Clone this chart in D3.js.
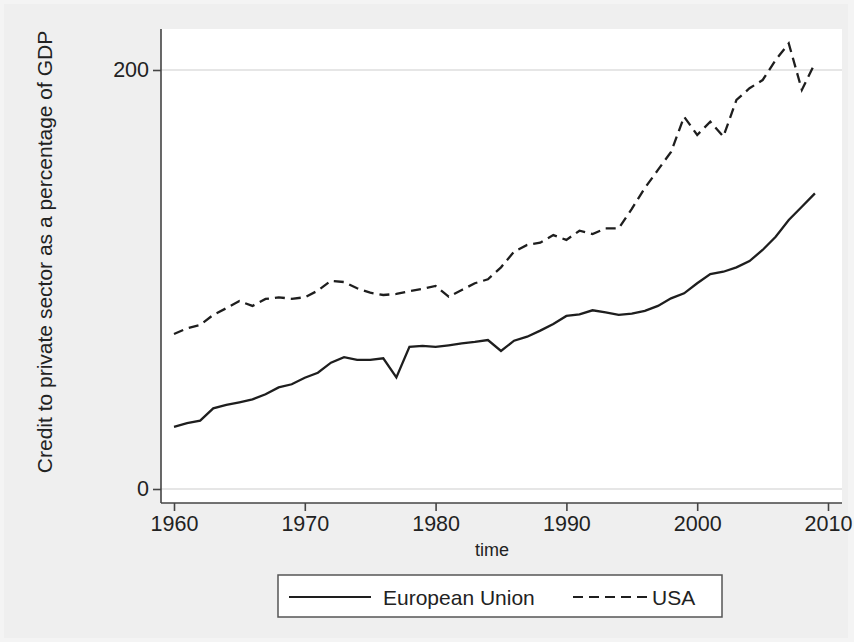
<!DOCTYPE html>
<html>
<head>
<meta charset="utf-8">
<script src="https://cdn.jsdelivr.net/npm/d3@7"></script>
<style>
  body { margin: 0; background: #f4f4f4; }
  text { font-family: "Liberation Sans", Arial, sans-serif; fill: #222; }
</style>
</head>
<body>
<script>
// data
const years = d3.range(1960, 2010)
const euValues = [29.7, 31.4, 32.6, 38.5, 40.1, 41.4, 42.8, 45.2, 48.5, 50.0,
  53.1, 55.5, 60.3, 62.9, 61.6, 61.6, 62.4, 53.3, 67.9, 68.3,
  67.8, 68.6, 69.5, 70.2, 71.1, 65.9, 70.8, 72.7, 75.6, 78.8,
  82.6, 83.4, 85.3, 84.3, 83.1, 83.7, 85.0, 87.4, 91.0, 93.4,
  98.2, 102.6, 103.7, 105.8, 108.8, 114.1, 120.4, 128.4, 134.7, 141.1]
const usaValues = [74.0, 76.7, 78.3, 83.1, 86.3, 89.7, 87.4, 90.7, 91.5, 90.8,
  91.5, 94.7, 99.4, 98.8, 95.8, 93.7, 92.6, 93.1, 94.4, 95.5,
  96.9, 91.8, 95.0, 98.2, 100.1, 105.8, 113.3, 116.5, 117.6, 121.2,
  118.9, 123.3, 121.7, 124.4, 124.4, 133.7, 143.7, 152.3, 160.9, 177.7,
  169.0, 175.3, 168.2, 185.7, 191.3, 195.2, 204.8, 212.7, 190.5, 203.2]
const xTicks = [1960, 1970, 1980, 1990, 2000, 2010]
const yTicks = [0, 200]
const seriesNames = ["European Union", "USA"]

const width = 854, height = 642
const svg = d3.select("body").append("svg")
  .attr("width", width).attr("height", height)

// grey page
svg.append("rect").attr("x", 4).attr("y", 4)
  .attr("width", 844).attr("height", 634).attr("fill", "#efefef")

// plot region
const box = {left: 161, right: 842, top: 29, bottom: 503}
svg.append("rect").attr("x", box.left).attr("y", box.top)
  .attr("width", box.right - box.left).attr("height", box.bottom - box.top)
  .attr("fill", "#fff")

const x = d3.scaleLinear().domain([1960, 2010]).range([174, 828])
const y = d3.scaleLinear().domain([0, 200]).range([489, 70])

// grid lines
svg.selectAll(".grid").data(yTicks).enter()
  .append("line")
  .attr("x1", box.left).attr("x2", box.right)
  .attr("y1", d => y(d)).attr("y2", d => y(d))
  .attr("stroke", "#e6e6e6").attr("stroke-width", 2)

// axes
const xAxis = d3.axisBottom(x).tickValues(xTicks).tickFormat(d3.format("d"))
  .tickSize(8).tickPadding(5).tickSizeOuter(0)
const gx = svg.append("g").attr("transform", `translate(0,${box.bottom})`).call(xAxis)
gx.select(".domain").attr("d", `M${box.left},0H${box.right}`)

const yAxis = d3.axisLeft(y).tickValues(yTicks).tickSize(8).tickPadding(4).tickSizeOuter(0)
const gy = svg.append("g").attr("transform", `translate(${box.left},0)`).call(yAxis)
gy.select(".domain").attr("d", `M0,${box.top}V${box.bottom}`)

svg.selectAll(".domain, .tick line").attr("stroke", "#444").attr("stroke-width", 1.6)
svg.selectAll(".tick text").attr("font-size", 21.5)
  .attr("font-family", "Liberation Sans, Arial, sans-serif").attr("fill", "#222")

// axis titles
svg.append("text").attr("x", 492).attr("y", 556)
  .attr("text-anchor", "middle").attr("font-size", 18).text("time")
svg.append("text")
  .attr("transform", "translate(52,252) rotate(-90)")
  .attr("text-anchor", "middle").attr("font-size", 21)
  .text("Credit to private sector as a percentage of GDP")

// lines
const line = d3.line().x((d, i) => x(years[i])).y(d => y(d))
svg.append("path").datum(euValues).attr("d", line)
  .attr("fill", "none").attr("stroke", "#1e1e1e").attr("stroke-width", 2.3)
svg.append("path").datum(usaValues).attr("d", line)
  .attr("fill", "none").attr("stroke", "#1e1e1e").attr("stroke-width", 2.3)
  .attr("stroke-dasharray", "10,6")

// legend
const lg = svg.append("g")
lg.append("rect").attr("x", 278).attr("y", 575).attr("width", 444).attr("height", 42)
  .attr("fill", "#fff").attr("stroke", "#555").attr("stroke-width", 1.5)
lg.append("line").attr("x1", 289).attr("x2", 371).attr("y1", 597).attr("y2", 597)
  .attr("stroke", "#1e1e1e").attr("stroke-width", 2)
lg.append("text").attr("x", 383).attr("y", 605).attr("font-size", 21).text(seriesNames[0])
lg.append("line").attr("x1", 573).attr("x2", 652).attr("y1", 597).attr("y2", 597)
  .attr("stroke", "#1e1e1e").attr("stroke-width", 2).attr("stroke-dasharray", "10,6")
lg.append("text").attr("x", 652).attr("y", 605).attr("font-size", 21).text(seriesNames[1])
</script>
</body>
</html>
